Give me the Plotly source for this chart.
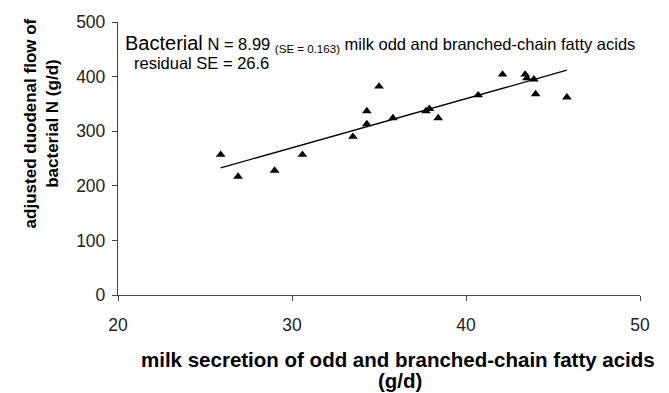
import plotly.graph_objects as go

# Data
milk_obcfa = [25.9, 26.9, 29.0, 30.6, 33.5, 34.3, 34.3, 35.0, 35.8, 37.7,
              37.9, 38.4, 40.7, 42.1, 43.4, 43.5, 43.9, 44.0, 45.8]
bacterial_n = [257, 217, 228, 257, 290, 337, 313, 382, 324, 337,
               341, 324, 366, 404, 404, 397, 395, 368, 362]
slope = 8.99
x_ticks = [20, 30, 40, 50]
y_ticks = [0, 100, 200, 300, 400, 500]

W, H = 669, 393
L, R, T, B = 118, 29, 19, 98
pw, ph = W - L - R, H - T - B

def px_x(p):
    return (p - L) / pw

def px_y(p):
    return (H - B - p) / ph

fit_x = [min(milk_obcfa), max(milk_obcfa)]
fit_y = [slope * v for v in fit_x]

fig = go.Figure()
fig.add_trace(go.Scatter(x=milk_obcfa, y=bacterial_n, mode="markers",
                         marker=dict(symbol="triangle-up", size=8.5, color="black"),
                         showlegend=False))
fig.add_trace(go.Scatter(x=fit_x, y=fit_y, mode="lines",
                         line=dict(color="black", width=1.3), showlegend=False))

font = "Liberation Sans, Arial"
axis_common = dict(showgrid=False, zeroline=False, showline=True,
                   linecolor="#444", linewidth=1.3, ticks="outside",
                   ticklen=5, tickcolor="#444", tickwidth=1.2,
                   tickfont=dict(family=font, size=17.5, color="#222"))
fig.update_xaxes(range=[20, 50], tickvals=x_ticks, ticklabelstandoff=9, **axis_common)
fig.update_yaxes(range=[0, 500], tickvals=y_ticks, ticklabelstandoff=3, **axis_common)

fig.add_annotation(xref="paper", yref="paper", x=px_x(123), y=px_y(41),
                   xanchor="left", yanchor="middle", showarrow=False,
                   text="<span style='font-size:20px'>Bacterial</span> N = 8.99 <sub>(SE = 0.163)</sub> milk odd and branched-chain fatty acids",
                   font=dict(family=font, size=16.5, color="black"))
fig.add_annotation(xref="paper", yref="paper", x=px_x(132), y=px_y(60),
                   xanchor="left", yanchor="middle", showarrow=False,
                   text="residual SE = 26.6",
                   font=dict(family=font, size=16.5, color="black"))
fig.add_annotation(xref="paper", yref="paper", x=px_x(41.5), y=px_y(122),
                   xanchor="center", yanchor="middle", showarrow=False, textangle=-90,
                   text="<b>adjusted duodenal flow of<br>bacterial N (g/d)</b>",
                   font=dict(family=font, size=17, color="black"))
fig.add_annotation(xref="paper", yref="paper", x=px_x(398), y=px_y(360),
                   xanchor="center", yanchor="middle", showarrow=False,
                   text="<b>milk secretion of odd and branched-chain fatty acids</b>",
                   font=dict(family=font, size=20.5, color="black"))
fig.add_annotation(xref="paper", yref="paper", x=px_x(400), y=px_y(381),
                   xanchor="center", yanchor="middle", showarrow=False,
                   text="<b>(g/d)</b>",
                   font=dict(family=font, size=20.5, color="black"))

fig.update_layout(width=W, height=H, margin=dict(l=L, r=R, t=T, b=B),
                  paper_bgcolor="white", plot_bgcolor="white")
fig.write_html("out.html")
